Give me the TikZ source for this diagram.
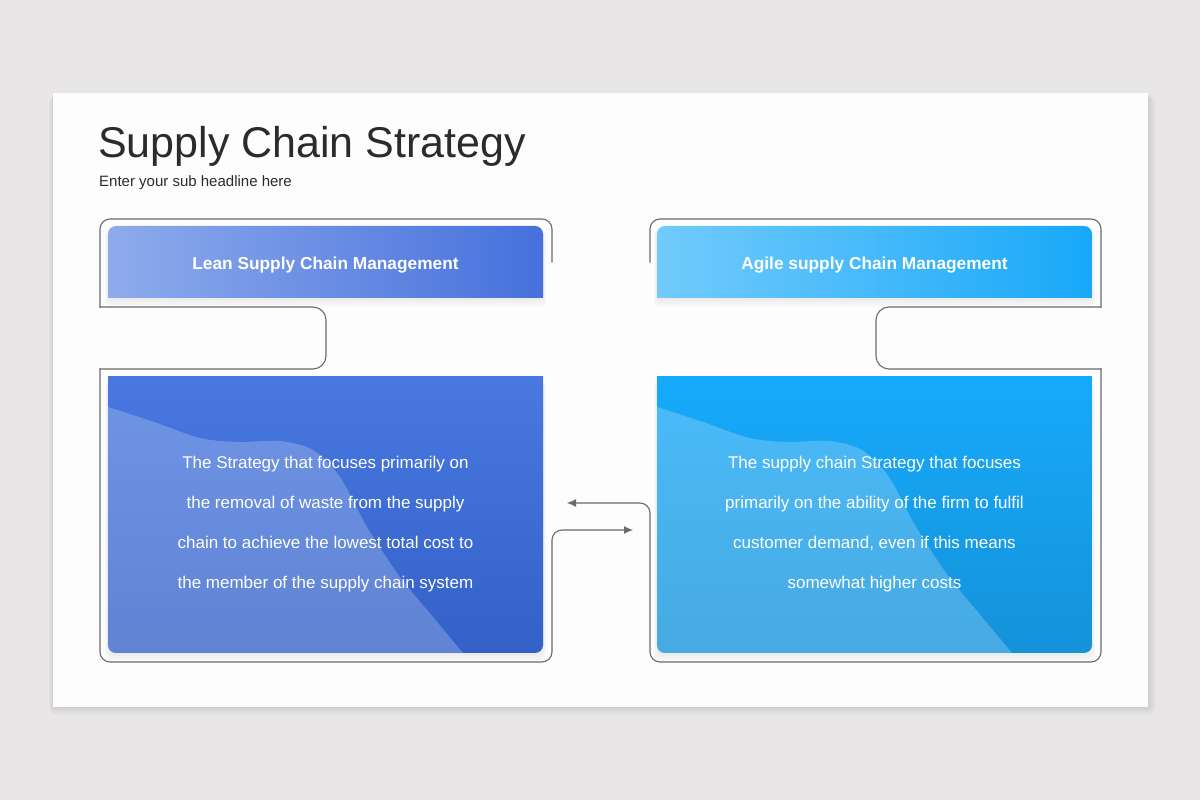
\documentclass[tikz,border=0pt]{standalone}
\usepackage{fontspec}
\setmainfont{Liberation Sans}
\usetikzlibrary{arrows.meta}
\definecolor{pagebg}{HTML}{E8E6E7}
\definecolor{slide}{HTML}{FDFDFD}
\definecolor{leanA}{HTML}{8EABEC}
\definecolor{leanB}{HTML}{4671DC}
\definecolor{leanC}{HTML}{4878E0}
\definecolor{leanD}{HTML}{3461C8}
\definecolor{agileA}{HTML}{72CBFC}
\definecolor{agileB}{HTML}{18A8F9}
\definecolor{agileC}{HTML}{16AAFB}
\definecolor{agileD}{HTML}{1592D9}
\definecolor{linegray}{HTML}{6B6B6B}
\definecolor{titlegray}{HTML}{2B2B2B}

\begin{document}
\begin{tikzpicture}[x=1pt,y=1pt,
  outline/.style={draw=linegray,line width=1.1pt,rounded corners=10pt,line cap=rect},
  arrowline/.style={-{Latex[length=9pt,width=8pt]}},
  headtext/.style={text=white,font=\fontsize{17.3}{20}\selectfont\bfseries,minimum width=435pt,minimum height=72pt},
  bodytext/.style={text=white,align=center,font=\fontsize{17}{40}\selectfont},
  wave/.style={white,opacity=.22},
  softshade/.style={black,opacity=.012}]
\useasboundingbox (0,0) rectangle (1200,800);
\fill[pagebg] (0,0) rectangle (1200,800);
\foreach \s in {1,...,8}
  \fill[softshade,rounded corners=\s pt] (53-\s/2,93-\s) rectangle (1148+\s,707-\s/2);
\fill[slide] (53,93) rectangle (1148,707);

\node[anchor=base west,inner sep=0,text=titlegray,font=\fontsize{43}{50}\selectfont] (title) at (98,642) {Supply Chain Strategy};
\node[anchor=base west,inner sep=0,text=titlegray,font=\fontsize{15}{18}\selectfont] (subtitle) at (99,613) {Enter your sub headline here};

\foreach \s in {1,...,6} {
  \fill[softshade,rounded corners=6pt] (108-\s/2,502-\s*1.6) rectangle (543+\s/2,570);
  \fill[softshade,rounded corners=6pt] (657-\s/2,502-\s*1.6) rectangle (1092+\s/2,570);
  \fill[softshade,rounded corners=8pt] (108-\s/2,147-\s*1.6) rectangle (543+\s/2,420);
  \fill[softshade,rounded corners=8pt] (657-\s/2,147-\s*1.6) rectangle (1092+\s/2,420);
}

\begin{scope}
  \clip[rounded corners=8pt] (108,490) rectangle (543,574);
  \shade[left color=leanA,right color=leanB] (108,502) rectangle (543,574);
\end{scope}
\begin{scope}
  \clip[rounded corners=8pt] (657,490) rectangle (1092,574);
  \shade[left color=agileA,right color=agileB] (657,502) rectangle (1092,574);
\end{scope}
\begin{scope}
  \clip[rounded corners=8pt] (108,147) rectangle (543,435);
  \shade[top color=leanC,bottom color=leanD] (108,147) rectangle (543,423);
  \fill[wave,shift={(108,0)}] plot[smooth,tension=.5] coordinates {(0,393) (46,378) (92,362) (130,358) (172,359) (205,350) (232,323) (259,273) (292,223) (325,183) (355,147)} -- (0,147) -- cycle;
\end{scope}
\begin{scope}
  \clip[rounded corners=8pt] (657,147) rectangle (1092,435);
  \shade[top color=agileC,bottom color=agileD] (657,147) rectangle (1092,423);
  \fill[wave,shift={(657,0)}] plot[smooth,tension=.5] coordinates {(0,393) (46,378) (92,362) (130,358) (172,359) (205,350) (232,323) (259,273) (292,223) (325,183) (355,147)} -- (0,147) -- cycle;
\end{scope}

\node[headtext] (lean) at (325.5,535) {Lean Supply Chain Management};
\node[headtext] (agile) at (874.5,535) {Agile supply Chain Management};
\node[bodytext] (leantext) at (325.5,276) {The Strategy that focuses primarily on\\the removal of waste from the supply\\chain to achieve the lowest total cost to\\the member of the supply chain system};
\node[bodytext] (agiletext) at (874.5,276) {The supply chain Strategy that focuses\\primarily on the ability of the firm to fulfil\\customer demand, even if this means\\somewhat higher costs};

\coordinate (leanstub) at (552,538);
\coordinate (leanin) at (633,270);
\coordinate (agilestub) at (650,538);
\coordinate (agilein) at (567,297);

\draw[outline] (leanstub) -- (552,581) -- (100,581) -- (100,493);
\draw[outline,rounded corners=13pt] (100,493) -- (326,493) -- (326,431) -- (100,431);
\draw[outline,arrowline] (100,431) -- (100,138) -- (552,138) -- (552,270) -- (leanin);

\draw[outline] (agilestub) -- (650,581) -- (1101,581) -- (1101,493);
\draw[outline,rounded corners=13pt] (1101,493) -- (876,493) -- (876,431) -- (1101,431);
\draw[outline,arrowline] (1101,431) -- (1101,138) -- (650,138) -- (650,297) -- (agilein);
\end{tikzpicture}
\end{document}
